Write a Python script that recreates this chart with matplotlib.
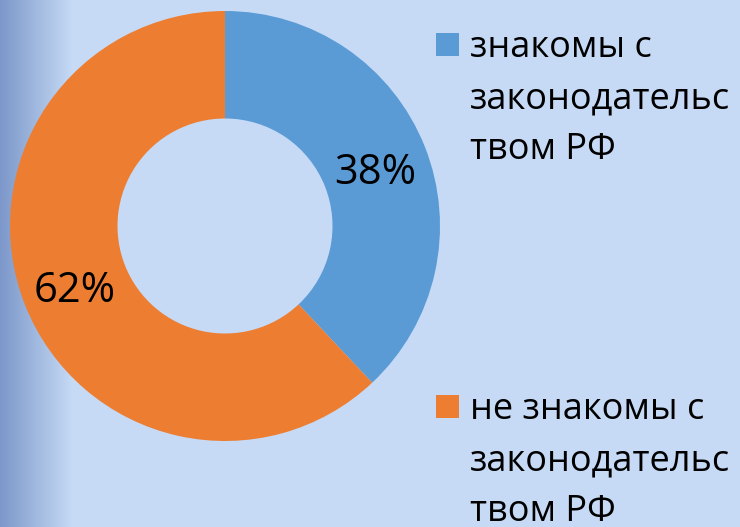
import matplotlib.pyplot as plt
import matplotlib.patches as mpatches
import numpy as np

# данные
categories = ["знакомы с\nзаконодательс\nтвом РФ", "не знакомы с\nзаконодательс\nтвом РФ"]
values = [38, 62]
colors = ["#5B9BD5", "#ED7D31"]

W, H = 740, 527
fam = ["Open Sans", "DejaVu Sans"]

fig = plt.figure(figsize=(W / 100, H / 100), dpi=100)
bg = "#C6DAF5"
fig.patch.set_facecolor(bg)

# фон с градиентом слева
bax = fig.add_axes([0, 0, 1, 1])
bax.set_axis_off()
x = np.arange(W)
t = np.clip(x / 72.0, 0, 1)
c0 = np.array([0x7C, 0x98, 0xCA]) / 255
c1 = np.array([0xC6, 0xDA, 0xF5]) / 255
row = c0[None, :] * (1 - t[:, None]) + c1[None, :] * t[:, None]
img = np.repeat(row[None, :, :], 10, axis=0)
bax.imshow(img, aspect="auto", extent=[0, 1, 0, 1])
bax.set_xlim(0, 1)
bax.set_ylim(0, 1)

# кольцевая диаграмма
cx, cy, r = 225, 226, 215
ax = fig.add_axes([(cx - r) / W, (H - cy - r) / H, 2 * r / W, 2 * r / H])
wedges, texts, autotexts = ax.pie(values, colors=colors, startangle=90, counterclock=False,
                                  radius=1, autopct="%d%%", pctdistance=0.75,
                                  wedgeprops=dict(width=0.5, linewidth=0),
                                  textprops=dict(fontsize=30, family=fam, color="black"))
for at in autotexts:
    px, py = at.get_position()
    at.set_position((px, py - 6 / r))
ax.set_xlim(-1, 1)
ax.set_ylim(-1, 1)
ax.set_aspect("equal")
ax.set_axis_off()

# легенда вручную
tops = [33, 395]
for i, lab in enumerate(categories):
    sq = mpatches.Rectangle((436 / W, 1 - (tops[i] + 23) / H), 23 / W, 23 / H,
                            transform=fig.transFigure, facecolor=colors[i], edgecolor="none")
    fig.patches.append(sq)
    for j, line in enumerate(lab.split("\n")):
        base = tops[i] + 24 + j * 51
        fig.text(470 / W, 1 - base / H, line, fontsize=26, family=fam,
                 va="baseline", ha="left", color="black")

fig.savefig("out.png", dpi=100, facecolor=bg)
